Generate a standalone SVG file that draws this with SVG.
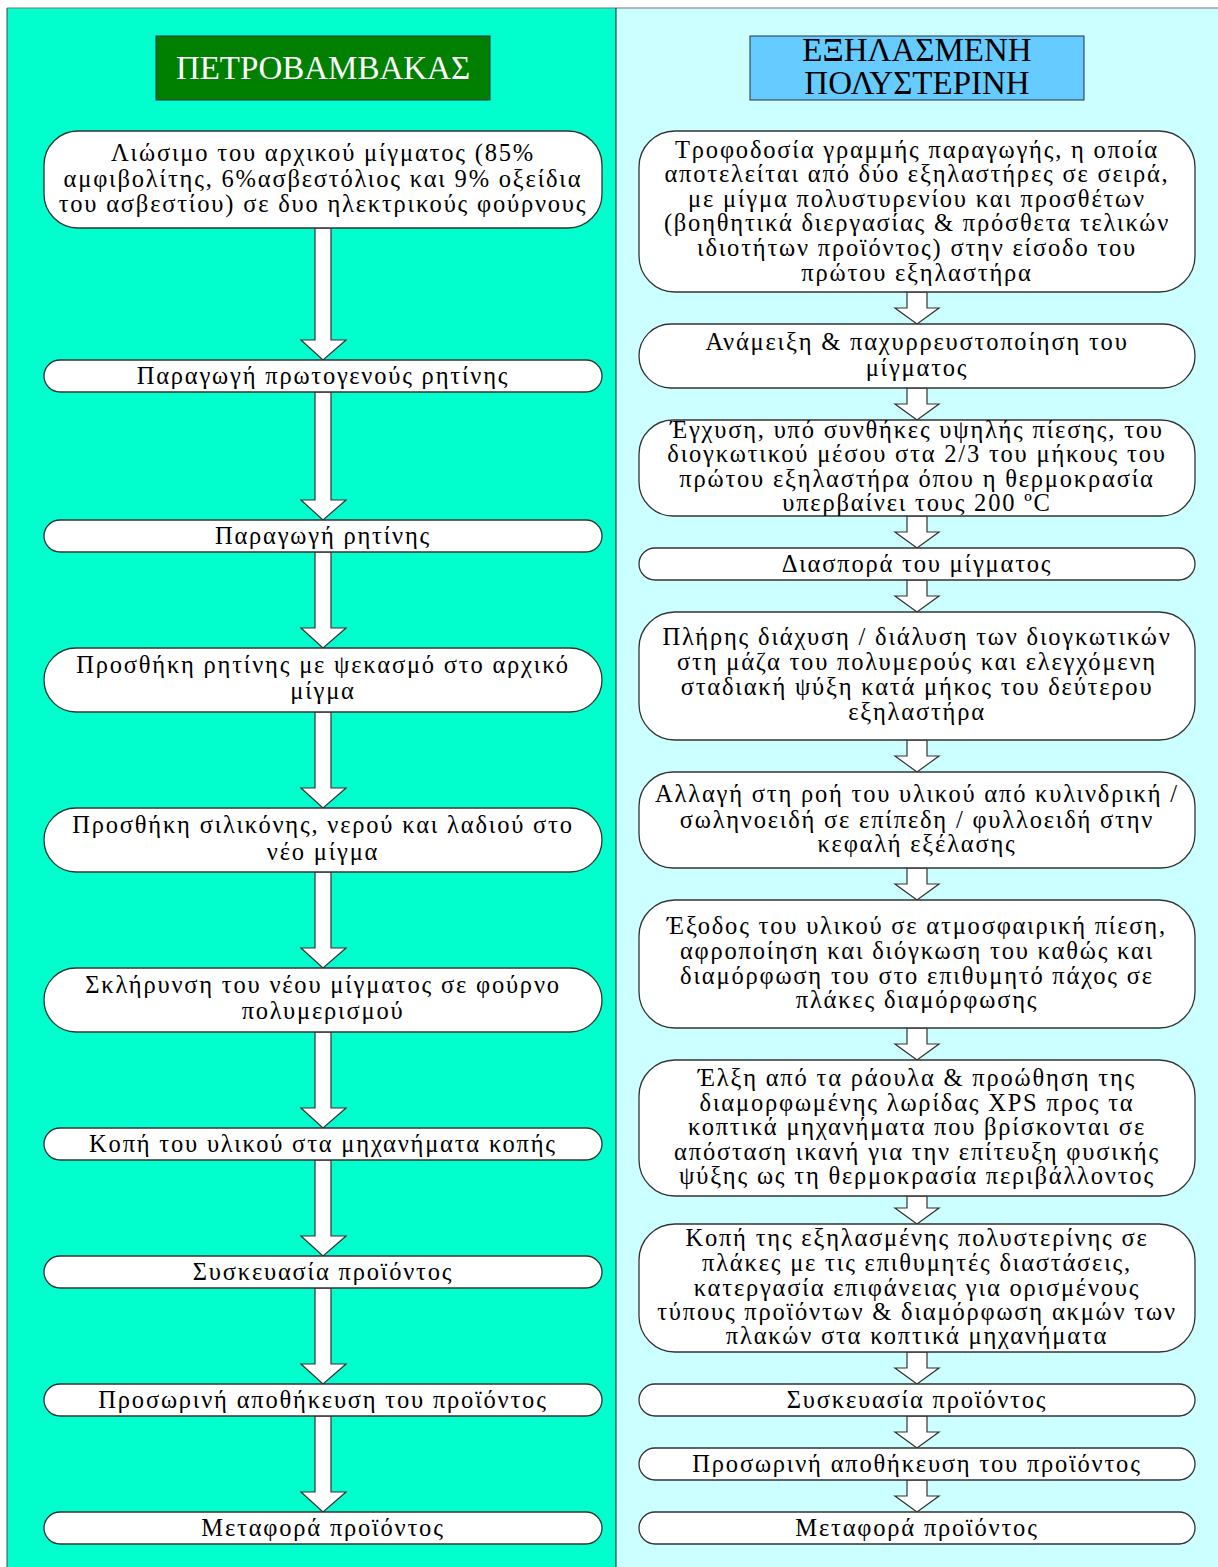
<svg xmlns="http://www.w3.org/2000/svg" width="1218" height="1567" viewBox="0 0 1218 1567">
<style>
.bx{fill:#fff;stroke:#333;stroke-width:1.3}
.t{font-family:"Liberation Serif","Times New Roman",serif;font-size:24.5px;letter-spacing:1.8px;text-anchor:middle;fill:#000}
.h{font-family:"Liberation Serif","Times New Roman",serif;font-size:33px;text-anchor:middle}
.ar{fill:#fff;stroke:#333;stroke-width:1.2;stroke-linejoin:miter}
</style>
<rect x="0" y="0" width="1218" height="1567" fill="#fff"/>
<rect x="7" y="8" width="609" height="1560" fill="#00FFCC"/>
<rect x="616" y="8" width="602" height="1560" fill="#CCFFFF"/>
<line x1="7" y1="8" x2="1218" y2="8" stroke="#777" stroke-width="1.2"/>
<line x1="7" y1="8" x2="7" y2="1567" stroke="#444" stroke-width="1"/>
<line x1="616" y1="8" x2="616" y2="1567" stroke="#222" stroke-width="1"/>

<g id="connectors">
<path class="ar" d="M315,228 V340 H301 L323,360 L346,340 H331 V228 Z"/>
<path class="ar" d="M315,392 V500 H301 L323,520 L346,500 H331 V392 Z"/>
<path class="ar" d="M315,552 V628 H301 L323,648 L346,628 H331 V552 Z"/>
<path class="ar" d="M315,712 V788 H301 L323,808 L346,788 H331 V712 Z"/>
<path class="ar" d="M315,872 V948 H301 L323,968 L346,948 H331 V872 Z"/>
<path class="ar" d="M315,1032 V1108 H301 L323,1128 L346,1108 H331 V1032 Z"/>
<path class="ar" d="M315,1160 V1236 H301 L323,1256 L346,1236 H331 V1160 Z"/>
<path class="ar" d="M315,1288 V1364 H301 L323,1384 L346,1364 H331 V1288 Z"/>
<path class="ar" d="M315,1416 V1492 H301 L323,1512 L346,1492 H331 V1416 Z"/>

<path class="ar" d="M907,292 V308 H895 L917,324 L939,308 H927 V292 Z"/>
<path class="ar" d="M907,388 V404 H895 L917,420 L939,404 H927 V388 Z"/>
<path class="ar" d="M907,516 V532 H895 L917,548 L939,532 H927 V516 Z"/>
<path class="ar" d="M907,580 V596 H895 L917,612 L939,596 H927 V580 Z"/>
<path class="ar" d="M907,740 V756 H895 L917,772 L939,756 H927 V740 Z"/>
<path class="ar" d="M907,868 V884 H895 L917,900 L939,884 H927 V868 Z"/>
<path class="ar" d="M907,1028 V1044 H895 L917,1060 L939,1044 H927 V1028 Z"/>
<path class="ar" d="M907,1196 V1208 H895 L917,1224 L939,1208 H927 V1196 Z"/>
<path class="ar" d="M907,1352 V1368 H895 L917,1384 L939,1368 H927 V1352 Z"/>
<path class="ar" d="M907,1416 V1432 H895 L917,1448 L939,1432 H927 V1416 Z"/>
<path class="ar" d="M907,1480 V1496 H895 L917,1512 L939,1496 H927 V1480 Z"/>
</g>

<g id="hdrL">
<rect x="156" y="36" width="334" height="64" fill="#008000" stroke="#234" stroke-width="1"/>
<text class="h" x="323" y="79" fill="#fff">ΠΕΤΡΟΒΑΜΒΑΚΑΣ</text>
</g>
<g id="hdrR">
<rect x="750" y="36" width="334" height="64" fill="#66CCFF" stroke="#234" stroke-width="1"/>
<text class="h" x="917" y="61" fill="#000">ΕΞΗΛΑΣΜΕΝΗ</text>
<text class="h" x="917" y="94" fill="#000">ΠΟΛΥΣΤΕΡΙΝΗ</text>
</g>

<g id="L1"><rect class="bx" x="44" y="131" width="558" height="97" rx="34"/>
<text class="t" x="323" y="161">Λιώσιμο του αρχικού μίγματος (85%</text>
<text class="t" x="323" y="187">αμφιβολίτης, 6%ασβεστόλιος και 9% οξείδια</text>
<text class="t" x="323" y="212">του ασβεστίου) σε δυο ηλεκτρικούς φούρνους</text></g>
<g id="L2"><rect class="bx" x="44" y="360" width="558" height="32" rx="16"/>
<text class="t" x="323" y="384">Παραγωγή πρωτογενούς ρητίνης</text></g>
<g id="L3"><rect class="bx" x="44" y="520" width="558" height="32" rx="16"/>
<text class="t" x="323" y="544">Παραγωγή ρητίνης</text></g>
<g id="L4"><rect class="bx" x="44" y="648" width="558" height="64" rx="32"/>
<text class="t" x="323" y="673">Προσθήκη ρητίνης με ψεκασμό στο αρχικό</text>
<text class="t" x="323" y="699">μίγμα</text></g>
<g id="L5"><rect class="bx" x="44" y="808" width="558" height="64" rx="32"/>
<text class="t" x="323" y="833">Προσθήκη σιλικόνης, νερού και λαδιού στο</text>
<text class="t" x="323" y="860">νέο μίγμα</text></g>
<g id="L6"><rect class="bx" x="44" y="968" width="558" height="64" rx="32"/>
<text class="t" x="323" y="993">Σκλήρυνση του νέου μίγματος σε φούρνο</text>
<text class="t" x="323" y="1019">πολυμερισμού</text></g>
<g id="L7"><rect class="bx" x="44" y="1128" width="558" height="32" rx="16"/>
<text class="t" x="323" y="1152">Κοπή του υλικού στα μηχανήματα κοπής</text></g>
<g id="L8"><rect class="bx" x="44" y="1256" width="558" height="32" rx="16"/>
<text class="t" x="323" y="1280">Συσκευασία προϊόντος</text></g>
<g id="L9"><rect class="bx" x="44" y="1384" width="558" height="32" rx="16"/>
<text class="t" x="323" y="1408">Προσωρινή αποθήκευση του προϊόντος</text></g>
<g id="L10"><rect class="bx" x="44" y="1512" width="558" height="32" rx="16"/>
<text class="t" x="323" y="1536">Μεταφορά προϊόντος</text></g>

<g id="R1"><rect class="bx" x="639" y="131" width="556" height="161" rx="36"/>
<text class="t" x="917" y="158">Τροφοδοσία γραμμής παραγωγής, η οποία</text>
<text class="t" x="917" y="182">αποτελείται από δύο εξηλαστήρες σε σειρά,</text>
<text class="t" x="917" y="207">με μίγμα πολυστυρενίου και προσθέτων</text>
<text class="t" x="917" y="231">(βοηθητικά διεργασίας &amp; πρόσθετα τελικών</text>
<text class="t" x="917" y="256">ιδιοτήτων προϊόντος) στην είσοδο του</text>
<text class="t" x="917" y="281">πρώτου εξηλαστήρα</text></g>
<g id="R2"><rect class="bx" x="639" y="324" width="556" height="64" rx="32"/>
<text class="t" x="917" y="350">Ανάμειξη &amp; παχυρρευστοποίηση του</text>
<text class="t" x="917" y="376">μίγματος</text></g>
<g id="R3"><rect class="bx" x="639" y="420" width="556" height="96" rx="34"/>
<text class="t" x="917" y="438">Έγχυση, υπό συνθήκες υψηλής πίεσης, του</text>
<text class="t" x="917" y="462">διογκωτικού μέσου  στα 2/3 του μήκους του</text>
<text class="t" x="917" y="487">πρώτου εξηλαστήρα όπου η θερμοκρασία</text>
<text class="t" x="917" y="511">υπερβαίνει τους 200  ºC</text></g>
<g id="R4"><rect class="bx" x="639" y="548" width="556" height="32" rx="16"/>
<text class="t" x="917" y="572">Διασπορά του μίγματος</text></g>
<g id="R5"><rect class="bx" x="639" y="612" width="556" height="128" rx="36"/>
<text class="t" x="917" y="645">Πλήρης διάχυση / διάλυση των διογκωτικών</text>
<text class="t" x="917" y="670">στη μάζα του πολυμερούς και ελεγχόμενη</text>
<text class="t" x="917" y="695">σταδιακή ψύξη κατά μήκος του δεύτερου</text>
<text class="t" x="917" y="720">εξηλαστήρα</text></g>
<g id="R6"><rect class="bx" x="639" y="772" width="556" height="96" rx="34"/>
<text class="t" x="917" y="802">Αλλαγή στη ροή του υλικού από κυλινδρική /</text>
<text class="t" x="917" y="828">σωληνοειδή σε επίπεδη / φυλλοειδή στην</text>
<text class="t" x="917" y="852">κεφαλή εξέλασης</text></g>
<g id="R7"><rect class="bx" x="639" y="900" width="556" height="128" rx="36"/>
<text class="t" x="917" y="934">Έξοδος του υλικού σε ατμοσφαιρική πίεση,</text>
<text class="t" x="917" y="959">αφροποίηση και διόγκωση του καθώς και</text>
<text class="t" x="917" y="984">διαμόρφωση του στο επιθυμητό πάχος σε</text>
<text class="t" x="917" y="1008">πλάκες διαμόρφωσης</text></g>
<g id="R8"><rect class="bx" x="639" y="1060" width="556" height="136" rx="36"/>
<text class="t" x="917" y="1086">Έλξη από τα ράουλα &amp; προώθηση της</text>
<text class="t" x="917" y="1111">διαμορφωμένης λωρίδας XPS προς τα</text>
<text class="t" x="917" y="1135">κοπτικά μηχανήματα που βρίσκονται σε</text>
<text class="t" x="917" y="1160">απόσταση ικανή για την επίτευξη φυσικής</text>
<text class="t" x="917" y="1184">ψύξης ως τη θερμοκρασία περιβάλλοντος</text></g>
<g id="R9"><rect class="bx" x="639" y="1224" width="556" height="128" rx="36"/>
<text class="t" x="917" y="1246">Κοπή της εξηλασμένης πολυστερίνης  σε</text>
<text class="t" x="917" y="1271">πλάκες με τις επιθυμητές διαστάσεις,</text>
<text class="t" x="917" y="1296">κατεργασία επιφάνειας για ορισμένους</text>
<text class="t" x="917" y="1320">τύπους προϊόντων &amp; διαμόρφωση ακμών των</text>
<text class="t" x="917" y="1344">πλακών στα κοπτικά μηχανήματα</text></g>
<g id="R10"><rect class="bx" x="639" y="1384" width="556" height="32" rx="16"/>
<text class="t" x="917" y="1408">Συσκευασία προϊόντος</text></g>
<g id="R11"><rect class="bx" x="639" y="1448" width="556" height="32" rx="16"/>
<text class="t" x="917" y="1472">Προσωρινή αποθήκευση του προϊόντος</text></g>
<g id="R12"><rect class="bx" x="639" y="1512" width="556" height="32" rx="16"/>
<text class="t" x="917" y="1536">Μεταφορά προϊόντος</text></g>
</svg>
